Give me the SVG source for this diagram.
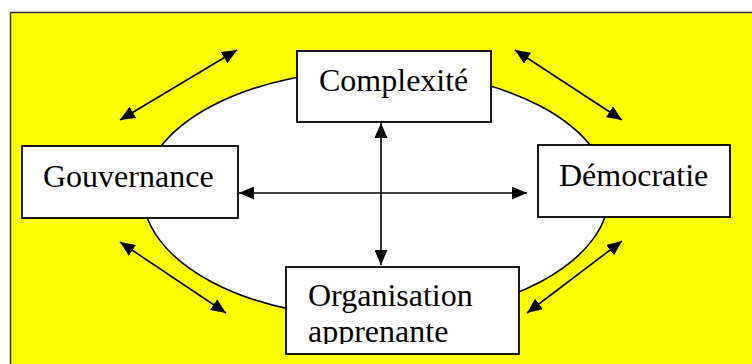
<svg xmlns="http://www.w3.org/2000/svg" width="752" height="364" viewBox="0 0 752 364">
<style>
.box{fill:#fff;stroke:#000;stroke-width:1.8}
.lbl{font-family:"Liberation Serif","Times New Roman",serif;font-size:32px;fill:#000}
.conn line{stroke:#000;stroke-width:1.6;marker-start:url(#ah);marker-end:url(#ah)}
</style>
<defs>
<marker id="ah" markerUnits="userSpaceOnUse" markerWidth="16" markerHeight="13" refX="15" refY="6.5" orient="auto-start-reverse">
<path d="M0,0 L15,6.5 L0,13 z" fill="#000"/>
</marker>
<clipPath id="orgclip"><rect x="286" y="267" width="233" height="77"/></clipPath>
</defs>
<rect x="0" y="0" width="752" height="364" fill="#fff"/>
<rect id="frame" x="10.5" y="12.5" width="760" height="360" fill="#ffff00" stroke="#333" stroke-width="1.5"/>
<ellipse id="ellipse" cx="376" cy="194" rx="233" ry="124" fill="#fff" stroke="#000" stroke-width="1.6"/>
<g id="connectors" class="conn">
<line x1="120" y1="120" x2="237" y2="50"/>
<line x1="515" y1="50" x2="622" y2="120"/>
<line x1="120" y1="242" x2="226" y2="313"/>
<line x1="622" y1="241" x2="527" y2="313"/>
<line x1="239" y1="193" x2="527" y2="193"/>
<line x1="381" y1="123" x2="381" y2="265"/>
</g>
<g id="complexite">
<rect class="box" x="297" y="51" width="194" height="71"/>
<text class="lbl" x="319" y="91">Complexité</text>
</g>
<g id="gouvernance">
<rect class="box" x="22" y="146" width="216" height="72"/>
<text class="lbl" x="43" y="187">Gouvernance</text>
</g>
<g id="democratie">
<rect class="box" x="538" y="145" width="192" height="72"/>
<text class="lbl" x="559" y="186">Démocratie</text>
</g>
<g id="organisation">
<rect class="box" x="286" y="267" width="233" height="87"/>
<g clip-path="url(#orgclip)">
<text class="lbl" x="308" y="306">Organisation</text>
<text class="lbl" x="308" y="342">apprenante</text>
</g>
</g>
</svg>
